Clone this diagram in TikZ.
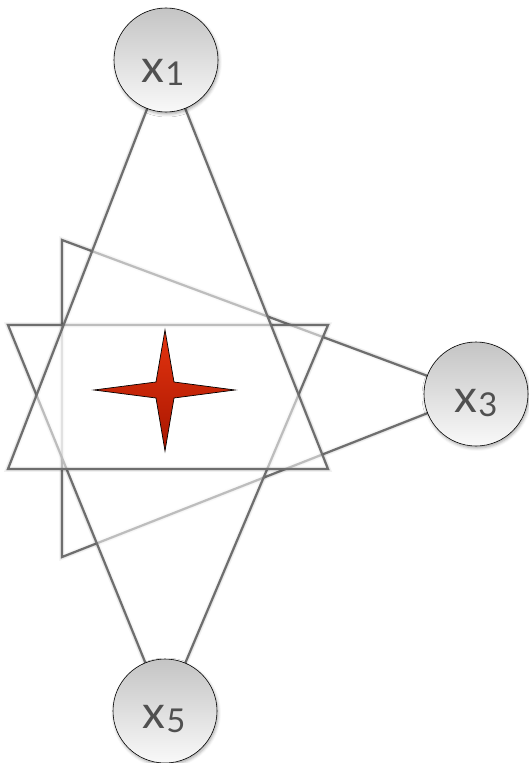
\documentclass[tikz,border=0pt]{standalone}
\usepackage{fontspec}
\newfontfamily\lblfont{Lato}
\usetikzlibrary{shadows.blur}
\definecolor{edgegray}{RGB}{110,110,110}
\definecolor{textgray}{RGB}{80,80,80}
\definecolor{circtop}{RGB}{196,196,196}
\definecolor{circbot}{RGB}{249,249,249}
\definecolor{startop}{RGB}{228,52,16}
\definecolor{starmid}{RGB}{208,32,0}
\definecolor{starbot}{RGB}{168,22,0}
\newcommand\digitsz{\fontsize{33}{33}\selectfont}
\begin{document}
\begin{tikzpicture}[x=1bp,y=-1bp,
  tri/.style={draw=edgegray, line width=2.2bp, line join=miter, fill=white, fill opacity=0.55},
  trishadow/.style={draw=black, draw opacity=0.06, line width=5.5bp, line join=miter, shift={(1.5,1.8)}},
  trishadowb/.style={draw=black, draw opacity=0.07, line width=3.2bp, line join=miter, shift={(1,1.2)}},
  vnode/.style={circle, minimum size=104bp, inner sep=0pt, draw=black, line width=0.6bp,
    top color=circtop, bottom color=circbot,
    blur shadow={shadow xshift=1bp, shadow yshift=-2bp, shadow blur radius=3bp, shadow opacity=35}},
  lbl/.style={font=\lblfont\fontsize{46}{46}\selectfont, text=textgray, inner sep=0pt, anchor=base},
  starshape/.style={draw=black, line width=0.7bp, line join=miter, top color=startop, middle color=starmid, bottom color=starbot}
]
\useasboundingbox (0,0) rectangle (529,763);
% vertex coordinates
\coordinate (c1) at (166,60);
\coordinate (c3) at (476,394);
\coordinate (c5) at (165,711);
\coordinate (tl) at (8,325);
\coordinate (tr) at (328,325);
\coordinate (bl) at (8,469);
\coordinate (br) at (328,469);
\coordinate (rt) at (62,240);
\coordinate (rb) at (62,557);
% right-pointing triangle
\draw[trishadow] (rt) -- (c3) -- (rb) -- cycle;
\draw[trishadowb] (rt) -- (c3) -- (rb) -- cycle;
\draw[tri] (rt) -- (c3) -- (rb) -- cycle;
% down-pointing triangle
\draw[trishadow] (tl) -- (tr) -- (c5) -- cycle;
\draw[trishadowb] (tl) -- (tr) -- (c5) -- cycle;
\draw[tri] (tl) -- (tr) -- (c5) -- cycle;
% up-pointing triangle
\draw[trishadow] (bl) -- (br) -- (c1) -- cycle;
\draw[trishadowb] (bl) -- (br) -- (c1) -- cycle;
\draw[tri] (bl) -- (br) -- (c1) -- cycle;
% star
\draw[starshape] (94,390) -- (156,382) -- (165,330) -- (174,382) -- (235,390) -- (174,398) -- (165,451) -- (156,398) -- cycle;
% circles
\node[vnode] (x1) at (c1) {};
\node[vnode] (x3) at (c3) {};
\node[vnode] (x5) at (c5) {};
% labels
\node[lbl] (x1t) at (163,82) {x\kern1bp\raisebox{-3.5bp}{\digitsz 1}};
\node[lbl] (x3t) at (476,412) {x\kern1bp\raisebox{-4bp}{\digitsz 3}};
\node[lbl] (x5t) at (164,728) {x\kern1bp\raisebox{-4bp}{\digitsz 5}};
\end{tikzpicture}
\end{document}
